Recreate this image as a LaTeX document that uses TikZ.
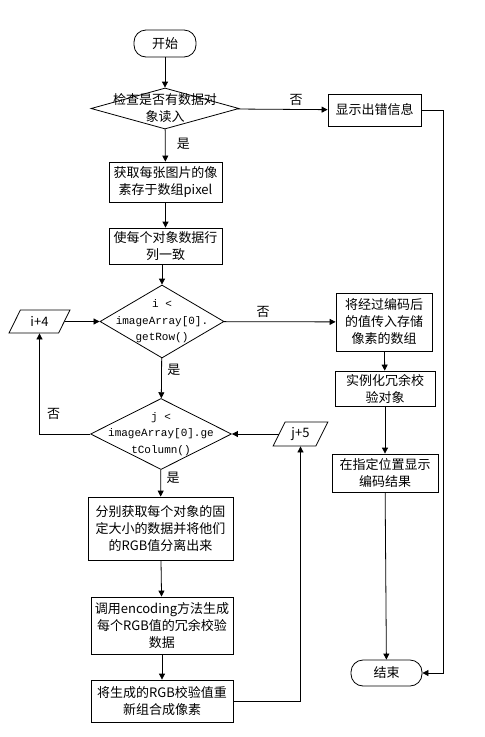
\documentclass[tikz,border=0pt]{standalone}
\usepackage{fontspec}
\setmainfont{Noto Sans CJK SC}
\setmonofont{Liberation Mono}
\usetikzlibrary{shapes.geometric,arrows.meta}

\begin{document}
\begin{tikzpicture}[x=1pt, y=-1pt, line width=0.8pt, >={Triangle[length=6pt,width=6pt]},
    every node/.style={font=\fontsize{13}{17}\selectfont, align=center},
    box/.style={draw, rectangle, inner sep=0pt},
    term/.style={draw, rectangle, rounded corners=12pt, inner sep=0pt},
    decision/.style={draw, diamond, inner sep=0pt},
    code/.style={font=\fontsize{11}{16.5}\selectfont\ttfamily},
    io/.style={draw, trapezium, trapezium left angle=62, trapezium right angle=118, trapezium stretches=true, inner sep=0pt}]

    \useasboundingbox (0,0) rectangle (485,737);

    \node[term, minimum width=62pt, minimum height=27pt] (A) at (165,43.5) {开始};
    \node[decision, minimum width=148pt, minimum height=41pt, label={center:{检查是否有数据对\\象读入}}] (B) at (165,108.5) {};
    \node[box, minimum width=93pt, minimum height=32pt] (C) at (374.5,110) {显示出错信息};
    \node[box, minimum width=113pt, minimum height=40pt] (D) at (165.5,182) {获取每张图片的像\\素存于数组pixel};
    \node[box, minimum width=113pt, minimum height=36pt] (E) at (165.5,246) {使每个对象数据行\\列一致};

    \node[decision, minimum width=124pt, minimum height=73pt, label={[code]center:{i <\\imageArray[0].\\getRow()}}] (F) at (162,321.5) {};
    \node[io, minimum width=61pt, minimum height=23pt] (G) at (39.5,321.5) {i+4};
    \node[box, minimum width=96pt, minimum height=58pt] (H) at (384,322) {将经过编码后\\的值传入存储\\像素的数组};
    \node[box, minimum width=100pt, minimum height=35pt] (I) at (385,388.5) {实例化冗余校\\验对象};
    \node[box, minimum width=106pt, minimum height=38pt] (J) at (385,473) {在指定位置显示\\编码结果};
    \node[term, minimum width=71pt, minimum height=26pt] (K) at (386.5,673) {结束};

    \node[decision, minimum width=141pt, minimum height=71pt, label={[code]center:{j <\\imageArray[0].ge\\tColumn()}}] (L) at (161,434) {};
    \node[io, minimum width=55pt, minimum height=24pt] (M) at (300.5,434) {j+5};
    \node[box, minimum width=145pt, minimum height=63pt] (N) at (160.5,528.5) {分别获取每个对象的固\\定大小的数据并将他们\\的RGB值分离出来};
    \node[box, minimum width=142pt, minimum height=57pt] (O) at (162,625.5) {调用encoding方法生成\\每个RGB值的冗余校验\\数据};
    \node[box, minimum width=142pt, minimum height=42pt] (P) at (162,701) {将生成的RGB校验值重\\新组合成像素};

    \draw[->] (A) -- (B);
    \draw[->] (B) -- (C) node[pos=0.65, above] {否};
    \draw[->] (B) -- (D) node[pos=0.45, right=8pt] {是};
    \draw[->] (D) -- (E);
    \draw[->] (E.south -| F.north) -- (F.north);
    \draw[->] (G) -- (F);
    \draw[->] (F) -- (H) node[pos=0.35, above] {否};
    \draw[->] (F) -- (L) node[pos=0.3, right=2pt] {是};
    \draw[->] (L) -| (G) node[pos=0.6, right=4pt] {否};
    \draw[->] (M) -- (L);
    \draw[->] (L) -- (N) node[pos=0.3, right=2pt] {是};
    \draw[->] (N) -- (O);
    \draw[->] (O) -- (P);
    \draw[->] (P) -| (M);

    \draw[->] (H) -- (I);
    \draw[->] (I) -- (J);
    \draw[->] (J) -- (K);
    \draw[->] (C.east) -- ++(22,0) |- (K.east);

\end{tikzpicture}
\end{document}
